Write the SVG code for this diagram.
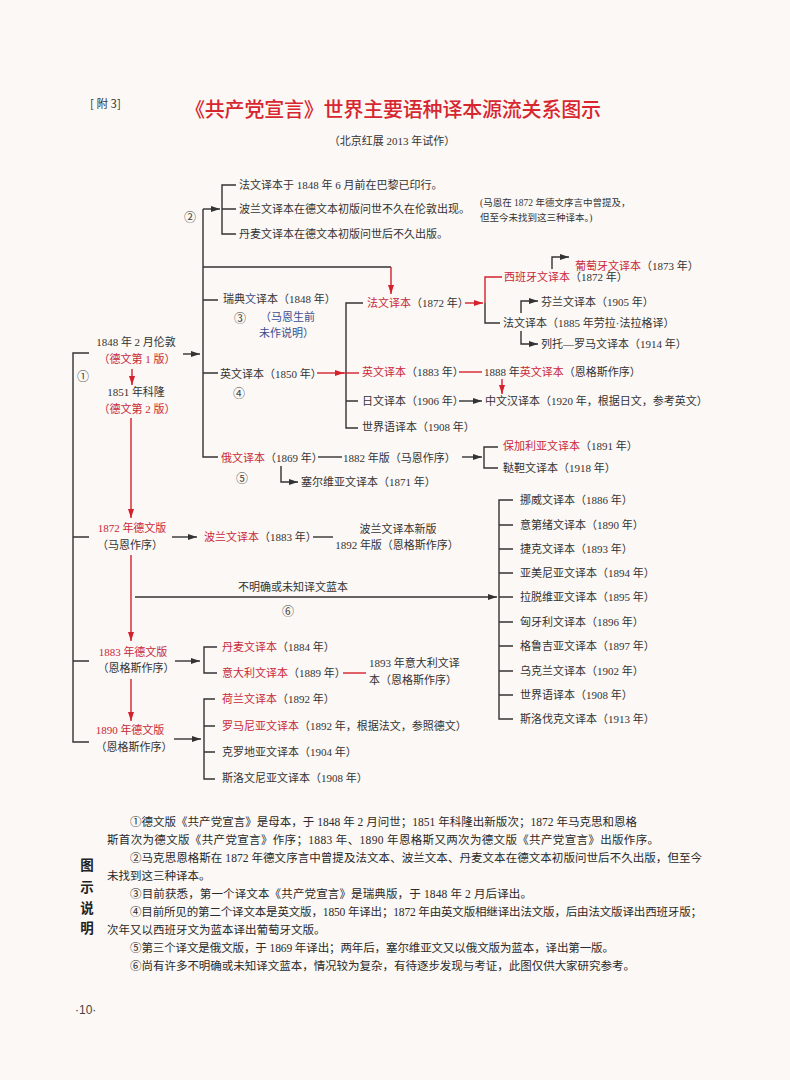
<svg xmlns="http://www.w3.org/2000/svg" width="790" height="1080" viewBox="0 0 790 1080">
<style>
.t{font-family:'Liberation Serif','Noto Sans CJK SC',serif;font-size:11px;fill:#333;dominant-baseline:central}
.m{text-anchor:middle}
.r{fill:#c9283b}
.b{fill:#3b4d8f}
.n{font-size:9.5px}
.f{font-family:'Liberation Serif','Noto Sans CJK SC',serif;font-size:11.5px;fill:#2a2a2a;dominant-baseline:central}
.c{fill:none;stroke:#333;stroke-width:1.4}
.cr{fill:none;stroke:#d6202c;stroke-width:1.4}
.ci{font-family:'Noto Sans CJK SC',sans-serif;font-size:12px;fill:#444;dominant-baseline:central;text-anchor:middle}
</style>
<defs>
<marker id="ah" viewBox="0 0 9 6" refX="9" refY="3" markerWidth="9" markerHeight="6" orient="auto" markerUnits="userSpaceOnUse"><path d="M0,0L9,3L0,6z" fill="#333"/></marker>
<marker id="ahr" viewBox="0 0 9 6" refX="9" refY="3" markerWidth="9" markerHeight="6" orient="auto" markerUnits="userSpaceOnUse"><path d="M0,0L9,3L0,6z" fill="#d6202c"/></marker>
</defs>
<rect width="790" height="1080" fill="#fcf8f5"/>

<g id="header">
<text x="90" y="103" font-family="'Noto Sans CJK SC',sans-serif" font-size="11.5" fill="#333" dominant-baseline="central">[ 附 3]</text>
<text x="185" y="108" font-family="'Noto Sans CJK SC',sans-serif" font-size="20" font-weight="500" fill="#d7262f" dominant-baseline="central" textLength="416">《共产党宣言》世界主要语种译本源流关系图示</text>
<text class="t m" x="392" y="141" font-size="11.5">（北京红展 2013 年试作）</text>
</g>

<g id="connectors">
<path class="c" d="M89,353H73V742H89M73,537H89M73,661H89"/>
<path class="c" d="M183,354H200" marker-end="url(#ah)"/>
<path class="c" d="M203,209V457H218M203,300H218M203,373H218"/>
<path class="c" d="M203,209H220" marker-end="url(#ah)"/>
<path class="c" d="M236,185H222V234H236M222,209H236"/>
<path class="c" d="M203,267H391"/>
<path class="cr" d="M391,267V294" marker-end="url(#ahr)"/>
<path class="c" d="M363,303H346V428H358M346,401H358"/>
<path class="cr" d="M317,373H344" marker-end="url(#ahr)"/>
<path class="cr" d="M343,373H359"/>
<path class="cr" d="M465,303H483" marker-end="url(#ahr)"/>
<path class="cr" d="M502,277H485V303"/>
<path class="c" d="M485,303V323H500"/>
<path class="c" d="M552,269V257H569" marker-end="url(#ah)"/>
<path class="c" d="M521,313V301H538" marker-end="url(#ah)"/>
<path class="c" d="M521,331V344H538" marker-end="url(#ah)"/>
<path class="cr" d="M459,372H482"/>
<path class="cr" d="M502,379V394" marker-end="url(#ahr)"/>
<path class="c" d="M459,401H482" marker-end="url(#ah)"/>
<path class="c" d="M318,457H342"/>
<path class="c" d="M462,457H482" marker-end="url(#ah)"/>
<path class="c" d="M498,447H484V468H498"/>
<path class="c" d="M281,466V482H298" marker-end="url(#ah)"/>
<path class="c" d="M172,537H197" marker-end="url(#ah)"/>
<path class="c" d="M313,537H333"/>
<path class="c" d="M135,597H497" marker-end="url(#ah)"/>
<path class="c" d="M513,500H499V719H513M499,525H513M499,549H513M499,573H513M499,597H513M499,622H513M499,646H513M499,671H513M499,695H513"/>
<path class="c" d="M175,661H200" marker-end="url(#ah)"/>
<path class="c" d="M217,647H204V673H217"/>
<path class="cr" d="M343,673H366"/>
<path class="c" d="M174,739H201" marker-end="url(#ah)"/>
<path class="c" d="M215,699H204V779H215M204,726H215M204,752H215"/>
<path class="cr" d="M132,369V385" marker-end="url(#ahr)"/>
<path class="cr" d="M131,418V518" marker-end="url(#ahr)"/>
<path class="cr" d="M131,555V641" marker-end="url(#ahr)"/>
<path class="cr" d="M131,679V721" marker-end="url(#ahr)"/>
</g>

<g id="labels">
<text class="ci" x="83" y="375">①</text>
<text class="ci" x="190" y="216">②</text>
<text class="ci" x="240" y="317">③</text>
<text class="ci" x="239" y="392">④</text>
<text class="ci" x="242" y="477">⑤</text>
<text class="ci" x="288" y="610">⑥</text>
</g>

<g id="n-1848">
<text class="t m" x="136" y="342">1848 年 2 月伦敦</text>
<text class="t m r" x="137" y="359">（德文第 1 版）</text>
</g>
<g id="n-1851">
<text class="t m" x="136" y="392">1851 年科隆</text>
<text class="t m r" x="137" y="409">（德文第 2 版）</text>
</g>
<g id="n-1872de">
<text class="t m r" x="132" y="528">1872 年德文版</text>
<text class="t m" x="130" y="545">（马恩作序）</text>
</g>
<g id="n-1883de">
<text class="t m r" x="133" y="652">1883 年德文版</text>
<text class="t m" x="136" y="668">（恩格斯作序）</text>
</g>
<g id="n-1890de">
<text class="t m r" x="130" y="730">1890 年德文版</text>
<text class="t m" x="134" y="747">（恩格斯作序）</text>
</g>

<g id="n-early">
<text class="t" x="239" y="185">法文译本于 1848 年 6 月前在巴黎已印行。</text>
<text class="t" x="239" y="209">波兰文译本在德文本初版问世不久在伦敦出现。</text>
<text class="t" x="239" y="234">丹麦文译本在德文本初版问世后不久出版。</text>
<text class="t n" x="480" y="203">(马恩在 1872 年德文序言中曾提及，</text>
<text class="t n" x="480" y="218">但至今未找到这三种译本。)</text>
</g>

<g id="n-sweden">
<text class="t" x="223" y="299">瑞典<tspan class="b">文</tspan>译本（1848 年）</text>
<text class="t b" x="260" y="317">（马恩生前</text>
<text class="t b" x="259" y="333">未作说明）</text>
</g>
<g id="n-en1850"><text class="t" x="220" y="374">英文译本（1850 年）</text></g>
<g id="n-ru1869"><text class="t" x="221" y="458"><tspan class="r">俄文译本</tspan>（1869 年）</text></g>
<g id="n-ru1882"><text class="t" x="343" y="458">1882 年版（马恩作序）</text></g>
<g id="n-serbian"><text class="t" x="301" y="482">塞尔维亚文译本（1871 年）</text></g>
<g id="n-bulgarian"><text class="t" x="503" y="446"><tspan class="r">保加利亚文译本</tspan>（1891 年）</text></g>
<g id="n-tatar"><text class="t" x="503" y="468">鞑靼文译本（1918 年）</text></g>

<g id="n-fr1872"><text class="t" x="367" y="303"><tspan class="r">法文译本</tspan>（1872 年）</text></g>
<g id="n-es1872"><text class="t" x="504" y="277"><tspan class="r">西班牙文译本</tspan>（1872 年）</text></g>
<g id="n-pt1873"><text class="t" x="575" y="266"><tspan class="r">葡萄牙文译本</tspan>（1873 年）</text></g>
<g id="n-fi1905"><text class="t" x="541" y="302">芬兰文译本（1905 年）</text></g>
<g id="n-fr1885"><text class="t" x="503" y="323">法文译本（1885 年劳拉·法拉格译）</text></g>
<g id="n-lt1914"><text class="t" x="541" y="344">列托—罗马文译本（1914 年）</text></g>
<g id="n-en1883"><text class="t" x="362" y="372"><tspan class="r">英文译本</tspan>（1883 年）</text></g>
<g id="n-en1888"><text class="t" x="484" y="372">1888 年<tspan class="r">英文译本</tspan>（恩格斯作序）</text></g>
<g id="n-ja1906"><text class="t" x="362" y="401">日文译本（1906 年）</text></g>
<g id="n-zh1920"><text class="t" x="485" y="401">中文汉译本（1920 年，根据日文，参考英文）</text></g>
<g id="n-eo1908a"><text class="t" x="362" y="427">世界语译本（1908 年）</text></g>

<g id="n-pl1883"><text class="t" x="204" y="537"><tspan class="r">波兰文译本</tspan>（1883 年）</text></g>
<g id="n-pl1892">
<text class="t m" x="398" y="529">波兰文译本新版</text>
<text class="t m" x="397" y="545">1892 年版（恩格斯作序）</text>
</g>
<g id="n-unknown"><text class="t m" x="293" y="587">不明确或未知译文蓝本</text></g>

<g id="n-others">
<text class="t" x="520" y="500">挪威文译本（1886 年）</text>
<text class="t" x="520" y="525">意第绪文译本（1890 年）</text>
<text class="t" x="520" y="549">捷克文译本（1893 年）</text>
<text class="t" x="520" y="573">亚美尼亚文译本（1894 年）</text>
<text class="t" x="520" y="597">拉脱维亚文译本（1895 年）</text>
<text class="t" x="520" y="622">匈牙利文译本（1896 年）</text>
<text class="t" x="520" y="646">格鲁吉亚文译本（1897 年）</text>
<text class="t" x="520" y="671">乌克兰文译本（1902 年）</text>
<text class="t" x="520" y="695">世界语译本（1908 年）</text>
<text class="t" x="520" y="719">斯洛伐克文译本（1913 年）</text>
</g>

<g id="n-da1884"><text class="t" x="222" y="647"><tspan class="r">丹麦文译本</tspan>（1884 年）</text></g>
<g id="n-it1889"><text class="t" x="222" y="673"><tspan class="r">意大利文译本</tspan>（1889 年）</text></g>
<g id="n-it1893">
<text class="t" x="369" y="663">1893 年意大利文译</text>
<text class="t" x="369" y="680">本（恩格斯作序）</text>
</g>
<g id="n-nl1892"><text class="t" x="222" y="699"><tspan class="r">荷兰文译本</tspan>（1892 年）</text></g>
<g id="n-ro1892"><text class="t" x="222" y="726"><tspan class="r">罗马尼亚文译本</tspan>（1892 年，根据法文，参照德文）</text></g>
<g id="n-hr1904"><text class="t" x="222" y="752">克罗地亚文译本（1904 年）</text></g>
<g id="n-sl1908"><text class="t" x="222" y="778">斯洛文尼亚文译本（1908 年）</text></g>

<g id="notes">
<g font-family="'Noto Sans CJK SC',sans-serif" font-size="13.5" font-weight="700" fill="#222" text-anchor="middle" dominant-baseline="central">
<text x="87" y="864">图</text>
<text x="87" y="886">示</text>
<text x="87" y="907">说</text>
<text x="87" y="927">明</text>
</g>
<text class="f" x="130" y="822" textLength="507">①德文版《共产党宣言》是母本，于 1848 年 2 月问世；1851 年科隆出新版次；1872 年马克思和恩格</text>
<text class="f" x="107" y="840" textLength="552">斯首次为德文版《共产党宣言》作序；1883 年、1890 年恩格斯又两次为德文版《共产党宣言》出版作序。</text>
<text class="f" x="130" y="858" textLength="572">②马克思恩格斯在 1872 年德文序言中曾提及法文本、波兰文本、丹麦文本在德文本初版问世后不久出版，但至今</text>
<text class="f" x="107" y="876">未找到这三种译本。</text>
<text class="f" x="130" y="894" textLength="402">③目前获悉，第一个译文本《共产党宣言》是瑞典版，于 1848 年 2 月后译出。</text>
<text class="f" x="130" y="912" textLength="572">④目前所见的第二个译文本是英文版，1850 年译出；1872 年由英文版相继译出法文版，后由法文版译出西班牙版；</text>
<text class="f" x="107" y="930">次年又以西班牙文为蓝本译出葡萄牙文版。</text>
<text class="f" x="130" y="948" textLength="484">⑤第三个译文是俄文版，于 1869 年译出；两年后，塞尔维亚文又以俄文版为蓝本，译出第一版。</text>
<text class="f" x="130" y="966" textLength="505">⑥尚有许多不明确或未知译文蓝本，情况较为复杂，有待逐步发现与考证，此图仅供大家研究参考。</text>
</g>

<g id="page-number">
<text x="75" y="1010" font-family="'Liberation Sans',sans-serif" font-size="12" fill="#444" dominant-baseline="central">·10·</text>
</g>
</svg>
